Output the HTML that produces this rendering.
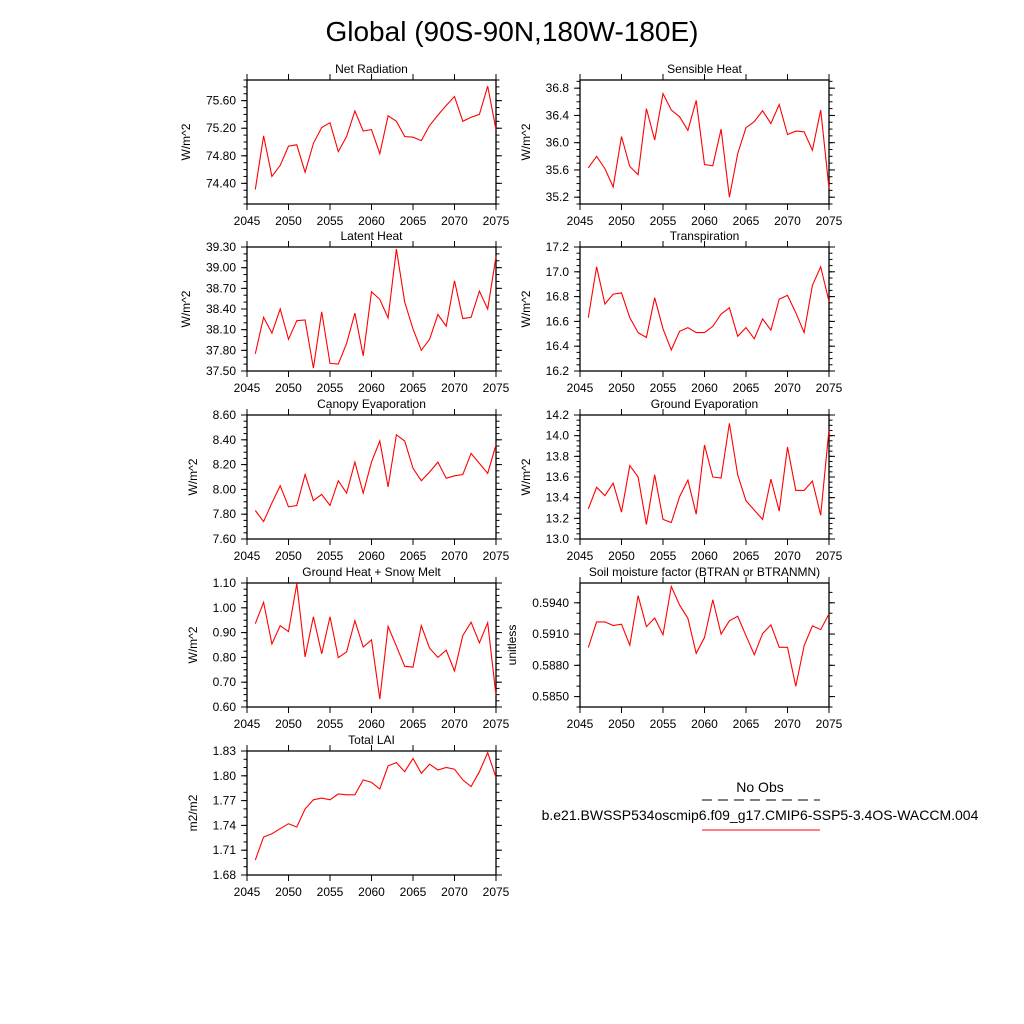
<!DOCTYPE html>
<html><head><meta charset="utf-8"><style>
body{margin:0;background:#fff;}
svg{display:block;font-family:"Liberation Sans",Arial,sans-serif;}
</style></head><body>
<svg id="fig" width="1024" height="1024" viewBox="0 0 1024 1024">
<text x="512" y="41" font-size="28" text-anchor="middle">Global (90S-90N,180W-180E)</text>
<g>
<text x="760" y="792" font-size="14" text-anchor="middle">No Obs</text>
<line x1="702" y1="800" x2="820" y2="800" stroke="#000" stroke-width="1" stroke-dasharray="10,6"/>
<text x="760" y="820" font-size="14" text-anchor="middle">b.e21.BWSSP534oscmip6.f09_g17.CMIP6-SSP5-3.4OS-WACCM.004</text>
<line x1="702" y1="830" x2="820" y2="830" stroke="#f00" stroke-width="1"/>
</g>
</svg>
<script>
const years = [2046,2047,2048,2049,2050,2051,2052,2053,2054,2055,2056,2057,2058,2059,2060,2061,2062,2063,2064,2065,2066,2067,2068,2069,2070,2071,2072,2073,2074,2075];
const xTicks = [2045,2050,2055,2060,2065,2070,2075];
const netRad = [74.31,75.09,74.50,74.66,74.94,74.96,74.56,74.98,75.21,75.28,74.86,75.08,75.45,75.16,75.18,74.83,75.38,75.30,75.08,75.07,75.02,75.24,75.39,75.53,75.66,75.30,75.36,75.40,75.81,75.18];
const sensible = [35.63,35.80,35.62,35.35,36.09,35.65,35.53,36.50,36.04,36.72,36.48,36.38,36.18,36.62,35.68,35.66,36.20,35.20,35.84,36.22,36.31,36.47,36.28,36.56,36.12,36.17,36.16,35.89,36.48,35.33];
const latent = [37.75,38.28,38.05,38.40,37.96,38.23,38.24,37.54,38.36,37.61,37.60,37.90,38.34,37.72,38.65,38.54,38.27,39.27,38.50,38.11,37.80,37.96,38.32,38.15,38.81,38.26,38.28,38.66,38.40,39.16];
const transp = [16.63,17.04,16.74,16.82,16.83,16.63,16.51,16.47,16.79,16.54,16.37,16.52,16.55,16.51,16.51,16.56,16.66,16.71,16.48,16.55,16.46,16.62,16.53,16.78,16.81,16.67,16.51,16.89,17.04,16.76];
const canopy = [7.83,7.74,7.89,8.03,7.86,7.87,8.12,7.91,7.96,7.87,8.07,7.97,8.22,7.97,8.22,8.39,8.02,8.44,8.39,8.17,8.07,8.14,8.22,8.09,8.11,8.12,8.29,8.21,8.13,8.36];
const groundEvap = [13.29,13.50,13.42,13.54,13.26,13.71,13.60,13.14,13.62,13.19,13.16,13.41,13.57,13.24,13.91,13.60,13.59,14.12,13.62,13.37,13.28,13.19,13.58,13.27,13.89,13.47,13.47,13.56,13.23,14.06];
const groundHeat = [0.936,1.022,0.854,0.928,0.904,1.097,0.802,0.964,0.815,0.964,0.799,0.822,0.948,0.842,0.871,0.632,0.925,0.845,0.764,0.761,0.928,0.837,0.800,0.829,0.745,0.888,0.942,0.859,0.940,0.647];
const soil = [0.58970,0.59217,0.59217,0.59182,0.59195,0.58993,0.59468,0.59172,0.59253,0.59094,0.59556,0.59378,0.59250,0.58914,0.59068,0.59429,0.59100,0.59227,0.59270,0.59084,0.58902,0.59104,0.59188,0.58973,0.58973,0.58599,0.58987,0.59178,0.59143,0.59293];
const lai = [1.698,1.726,1.730,1.736,1.742,1.738,1.760,1.771,1.773,1.771,1.778,1.777,1.777,1.795,1.792,1.784,1.812,1.816,1.805,1.821,1.803,1.814,1.807,1.810,1.808,1.795,1.787,1.805,1.828,1.798];
const ticksNet = ["74.40","74.80","75.20","75.60"];
const ticksSens = ["35.2","35.6","36.0","36.4","36.8"];
const ticksLat = ["37.50","37.80","38.10","38.40","38.70","39.00","39.30"];
const ticksTr = ["16.2","16.4","16.6","16.8","17.0","17.2"];
const ticksCan = ["7.60","7.80","8.00","8.20","8.40","8.60"];
const ticksGE = ["13.0","13.2","13.4","13.6","13.8","14.0","14.2"];
const ticksGH = ["0.60","0.70","0.80","0.90","1.00","1.10"];
const ticksSoil = ["0.5850","0.5880","0.5910","0.5940"];
const ticksLai = ["1.68","1.71","1.74","1.77","1.80","1.83"];

const NS='http://www.w3.org/2000/svg';
const svg=document.getElementById('fig');
function mk(tag,attrs,parent){const e=document.createElementNS(NS,tag);for(const k in attrs)e.setAttribute(k,attrs[k]);parent.appendChild(e);return e;}

function panel(id,title,ylab,L,T,W,H,ymin,ymax,ticks,minorStep,vals,labX){
  const g=mk('g',{},svg);
  
  
  const R=L+W,B=T+H;
  const xs=v=>L+(v-2045)/30*W;
  const ys=v=>B-(v-ymin)/(ymax-ymin)*H;
  const fr=mk('rect',{x:L,y:T,width:W,height:H,fill:'none',stroke:'#000','stroke-width':1.3},g);
  
  
  xTicks.forEach(t=>{
    const x=xs(t);
    mk('line',{x1:x,y1:B,x2:x,y2:B+6,stroke:'#000'},g);
    mk('line',{x1:x,y1:T,x2:x,y2:T-6,stroke:'#000'},g);
    const tx=mk('text',{x:x,y:B+21,'font-size':12,'text-anchor':'middle'},g);
    tx.textContent=t;
    
    
  });
  const start=Math.ceil(ymin/minorStep-1e-6);
  for(let k=start;k*minorStep<=ymax+1e-9;k++){
    const y=ys(k*minorStep);
    if(y<T-0.5||y>B+0.5)continue;
    mk('line',{x1:L,y1:y,x2:L-3.5,y2:y,stroke:'#000'},g);
    mk('line',{x1:R,y1:y,x2:R+3.5,y2:y,stroke:'#000'},g);
  }
  ticks.forEach(t=>{
    const y=ys(parseFloat(t));
    mk('line',{x1:L,y1:y,x2:L-6,y2:y,stroke:'#000'},g);
    mk('line',{x1:R,y1:y,x2:R+6,y2:y,stroke:'#000'},g);
    const tx=mk('text',{x:L-11,y:y+4,'font-size':12,'text-anchor':'end'},g);
    tx.textContent=t;
    
    
  });
  const tt=mk('text',{x:L+W/2,y:T-7,'font-size':12,'text-anchor':'middle'},g);
  tt.textContent=title;
  
  
  const yl=mk('text',{x:labX,y:T+H/2,'font-size':12,'text-anchor':'middle',transform:`rotate(-90 ${labX} ${T+H/2})`},g);
  yl.textContent=ylab;
  
  
  const pts=vals.map((v,i)=>xs(years[i]).toFixed(1)+','+ys(v).toFixed(1)).join(' ');
  const pl=mk('polyline',{points:pts,fill:'none',stroke:'#f00','stroke-width':1.1},g);
  
  
}
const LX=247,RX=580,W=249,H=124;
panel('net-radiation','Net Radiation','W/m^2',LX,80,W,H,74.10,75.90,ticksNet,0.1,netRad,190);
panel('sensible-heat','Sensible Heat','W/m^2',RX,80,W,H,35.10,36.92,ticksSens,0.1,sensible,530);
panel('latent-heat','Latent Heat','W/m^2',LX,247,W,H,37.50,39.30,ticksLat,0.1,latent,190);
panel('transpiration','Transpiration','W/m^2',RX,247,W,H,16.2,17.2,ticksTr,0.05,transp,530);
panel('canopy-evaporation','Canopy Evaporation','W/m^2',LX,415,W,H,7.60,8.60,ticksCan,0.05,canopy,197);
panel('ground-evaporation','Ground Evaporation','W/m^2',RX,415,W,H,13.0,14.2,ticksGE,0.05,groundEvap,530);
panel('ground-heat','Ground Heat + Snow Melt','W/m^2',LX,583,W,H,0.60,1.10,ticksGH,0.025,groundHeat,197);
panel('soil-moisture','Soil moisture factor (BTRAN or BTRANMN)','unitless',RX,583,W,H,0.5840,0.5959,ticksSoil,0.001,soil,516);
panel('total-lai','Total LAI','m2/m2',LX,751,W,H,1.68,1.83,ticksLai,0.01,lai,197);
</script>
</body></html>
